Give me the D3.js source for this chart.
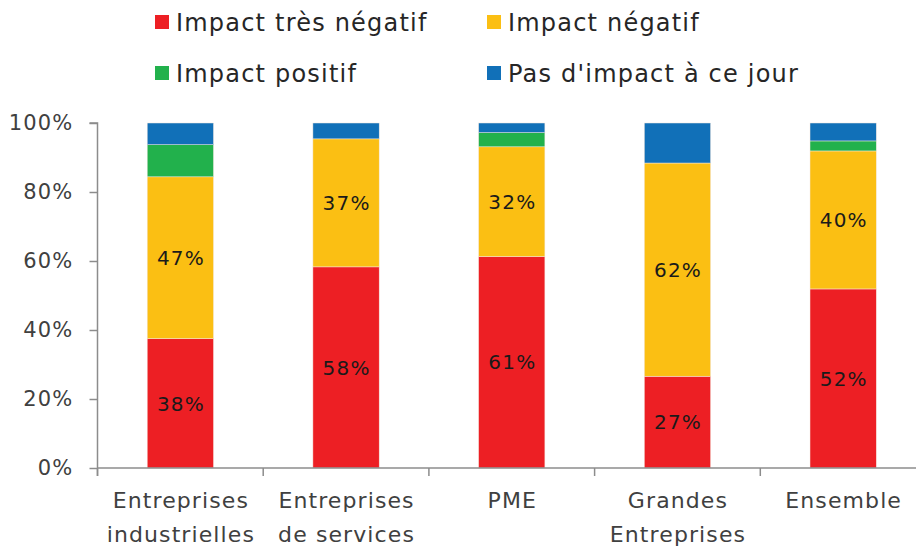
<!DOCTYPE html>
<html>
<head>
<meta charset="utf-8">
<script src="https://cdn.jsdelivr.net/npm/d3@7"></script>
<style>
  body { margin: 0; background: #fff; }
  svg text { font-family: "DejaVu Sans", sans-serif; }
</style>
</head>
<body>
<div id="chart"></div>
<script>
// categories, one entry per line of the label
var categories = [["Entreprises", "industrielles"], ["Entreprises", "de services"], ["PME"], ["Grandes", "Entreprises"], ["Ensemble"]];
var seriesNames = ["Impact très négatif", "Impact négatif", "Impact positif", "Pas d'impact à ce jour"];
var seriesColors = ["#ed1f24", "#fbbf13", "#22b14c", "#1170b8"];
var tresNegatif = [37.5, 58.3, 61.3, 26.6, 51.9];
var negatif = [46.9, 37.1, 31.8, 61.8, 40.0];
var positif = [9.3, 0, 4.1, 0, 2.9];
var pasImpact = [6.3, 4.6, 2.8, 11.6, 5.2];
var yTicks = [0, 20, 40, 60, 80, 100];
var labelledSeries = [0, 1]; // only the two first series carry a value label

var width = 916, height = 551;
var margin = {top: 123, right: -10, bottom: 83, left: 97.5};

var rows = categories.map(function(c, i) {
    return {cat: i, s0: tresNegatif[i], s1: negatif[i], s2: positif[i], s3: pasImpact[i]};
});
var keys = ["s0", "s1", "s2", "s3"];
var stacked = d3.stack().keys(keys)(rows);

var svg = d3.select("#chart").append("svg")
    .attr("width", width)
    .attr("height", height);

var x = d3.scaleBand()
    .domain(d3.range(categories.length))
    .range([margin.left, width - margin.right])
    .paddingInner(0.6)
    .paddingOuter(0.3);

var y = d3.scaleLinear()
    .domain([0, 100])
    .range([height - margin.bottom, margin.top]);

// bars
svg.append("g")
    .selectAll("g")
    .data(stacked)
    .join("g")
        .attr("fill", function(d, i) { return seriesColors[i]; })
    .selectAll("rect")
    .data(function(d) { return d; })
    .join("rect")
        .attr("x", function(d) { return x(d.data.cat); })
        .attr("y", function(d) { return y(d[1]); })
        .attr("height", function(d) { return y(d[0]) - y(d[1]); })
        .attr("width", x.bandwidth())
        .attr("stroke", "#f4e8e0")
        .attr("stroke-width", 0.5);

// value labels
labelledSeries.forEach(function(si) {
    svg.append("g")
        .selectAll("text")
        .data(stacked[si])
        .join("text")
            .attr("x", function(d) { return x(d.data.cat) + x.bandwidth() / 2 + 0.6; })
            .attr("y", function(d) { return (y(d[0]) + y(d[1])) / 2; })
            .attr("dy", "0.36em")
            .attr("text-anchor", "middle")
            .attr("font-size", 20)
            .attr("letter-spacing", 1.2)
            .attr("fill", "#1a1a1a")
            .text(function(d) { return Math.round(d[1] - d[0]) + "%"; });
});

// y axis
var yAxis = d3.axisLeft(y)
    .tickValues(yTicks)
    .tickFormat(function(d) { return d + "%"; })
    .tickSize(8)
    .tickPadding(16);

var gy = svg.append("g")
    .attr("transform", "translate(" + margin.left + ",0)")
    .call(yAxis);
gy.select(".domain").attr("stroke", "#8c8c8c").attr("stroke-width", 1.5)
    .attr("d", "M-8," + y(100) + "H0V" + (y(0) + 8));
gy.selectAll(".tick line").attr("stroke", "#8c8c8c").attr("stroke-width", 1.5);
gy.selectAll(".tick text").attr("font-size", 21).attr("letter-spacing", 1.2).attr("fill", "#404040");

// x axis: line plus ticks at band boundaries
var gx = svg.append("g");
var x0 = y(0);
gx.append("line")
    .attr("x1", margin.left).attr("x2", width)
    .attr("y1", x0).attr("y2", x0)
    .attr("stroke", "#8c8c8c").attr("stroke-width", 1.5);
gx.selectAll("line.tk")
    .data(d3.range(categories.length + 1))
    .join("line")
        .attr("class", "tk")
        .attr("x1", function(i) { return margin.left + i * x.step(); })
        .attr("x2", function(i) { return margin.left + i * x.step(); })
        .attr("y1", x0).attr("y2", x0 + 8)
        .attr("stroke", "#8c8c8c").attr("stroke-width", 1.5);

var catLabels = gx.selectAll("text.cat")
    .data(categories)
    .join("text")
        .attr("class", "cat")
        .attr("text-anchor", "middle")
        .attr("font-size", 22)
        .attr("letter-spacing", 1.1)
        .attr("fill", "#404040")
        .attr("transform", function(d, i) { return "translate(" + (x(i) + x.bandwidth() / 2 + 0.5) + "," + (x0 + 40) + ")"; });
catLabels.selectAll("tspan")
    .data(function(d) { return d; })
    .join("tspan")
        .attr("x", 0)
        .attr("y", function(d, i) { return i * 34; })
        .text(function(d) { return d; });

// legend
var legendPos = [[155, 22], [487, 22], [155, 73], [487, 73]];
var legend = svg.append("g")
    .selectAll("g")
    .data(seriesNames)
    .join("g")
        .attr("transform", function(d, i) { return "translate(" + legendPos[i][0] + "," + legendPos[i][1] + ")"; });
legend.append("rect")
    .attr("x", 0).attr("y", -7)
    .attr("width", 14).attr("height", 14)
    .attr("fill", function(d, i) { return seriesColors[i]; });
legend.append("text")
    .attr("x", 21).attr("dy", "0.36em")
    .attr("font-size", 24)
    .attr("letter-spacing", 1.2)
    .attr("fill", "#262626")
    .text(function(d) { return d; });
</script>
</body>
</html>
